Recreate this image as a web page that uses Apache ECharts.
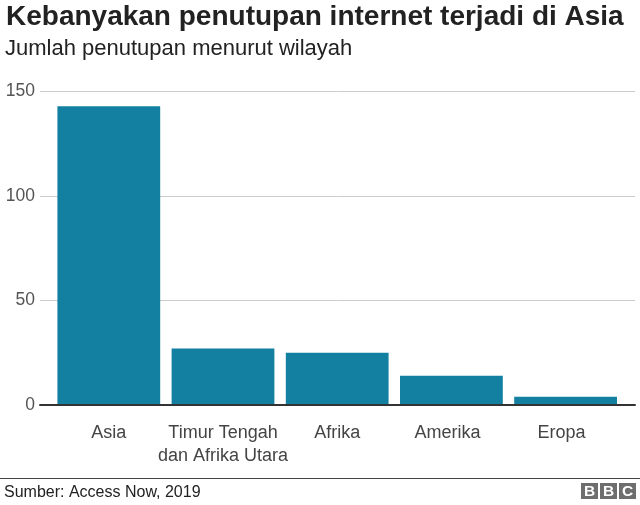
<!DOCTYPE html>
<html>
<head>
<meta charset="utf-8">
<style>
  html, body { margin: 0; padding: 0; background: #fff; }
  #chart { width: 640px; height: 505px; }
</style>
<script src="https://cdn.jsdelivr.net/npm/echarts@6/dist/echarts.min.js"></script>
</head>
<body>
<div id="chart"></div>
<script>
const categories = ['Asia', 'Timur Tengah\ndan Afrika Utara', 'Afrika', 'Amerika', 'Eropa'];
const closures = [143, 27, 25, 14, 4];
const yTicks = [0, 50, 100, 150];

const font = '"Liberation Sans", Arial, sans-serif';
const chart = echarts.init(document.getElementById('chart'), null, {renderer: 'canvas'});

function bbcBlock(x, letter) {
    return [
        {type: 'rect', shape: {x: x, y: 483, width: 17, height: 16}, style: {fill: '#6e6e6e'}},
        {type: 'text', x: x + 8.5, y: 491.5, style: {
            text: letter, fill: '#fff', font: 'bold 15.5px ' + font, align: 'center', verticalAlign: 'middle'
        }}
    ];
}

// last two labels sit a little left of their bars in the original
const categoryData = categories.map(function (name, i) {
    return i >= 3 ? {value: name, textStyle: {padding: [0, 8, 0, 0]}} : name;
});

chart.setOption({
    animation: false,
    textStyle: {fontFamily: font},
    title: [
        {text: 'Kebanyakan penutupan internet terjadi di Asia', left: 6, top: 3, padding: 0,
            textStyle: {fontSize: 28, fontWeight: 'bold', color: '#222', fontFamily: font}},
        {text: 'Jumlah penutupan menurut wilayah', left: 5, top: 38, padding: 0,
            textStyle: {fontSize: 22, fontWeight: 'normal', color: '#222', fontFamily: font}},
        {text: 'Sumber: Access Now, 2019', left: 4, top: 485, padding: 0,
            textStyle: {fontSize: 16, fontWeight: 'normal', color: '#222', fontFamily: font}}
    ],
    // first grid only carries the gridlines and baseline, which run wider than the bars
    grid: [
        {left: 40, top: 91.5, width: 595, height: 313.5},
        {left: 51.7, top: 91.5, width: 571, height: 313.5}
    ],
    xAxis: [
        {gridIndex: 0, type: 'value', min: 0, max: 1, show: true,
            axisLine: {show: true, onZero: true, lineStyle: {color: '#333', width: 2}},
            axisTick: {show: false}, axisLabel: {show: false}, splitLine: {show: false}, z: 5},
        {gridIndex: 1, type: 'category', data: categoryData,
            axisLine: {show: false}, axisTick: {show: false},
            axisLabel: {fontSize: 18, color: '#444', margin: 17, lineHeight: 23, interval: 0}}
    ],
    yAxis: [
        {gridIndex: 0, type: 'value', min: 0, max: 150, interval: 50,
            axisLine: {show: false}, axisTick: {show: false},
            axisLabel: {
                fontSize: 17.5, color: '#555', margin: 5, padding: [5, 0, 0, 0],
                formatter: function (v) { return yTicks.includes(v) ? String(v) : ''; }
            },
            splitLine: {lineStyle: {color: '#cccccc', width: 1}}},
        {gridIndex: 1, type: 'value', min: 0, max: 150, show: false}
    ],
    series: [{
        type: 'bar',
        xAxisIndex: 1,
        yAxisIndex: 1,
        data: closures,
        barCategoryGap: '10%',
        itemStyle: {color: '#1380A1'}
    }],
    graphic: [
        {type: 'rect', shape: {x: 0, y: 478, width: 640, height: 1}, style: {fill: '#444'}},
        ...bbcBlock(581, 'B'),
        ...bbcBlock(600, 'B'),
        ...bbcBlock(619, 'C')
    ]
});
</script>
</body>
</html>
